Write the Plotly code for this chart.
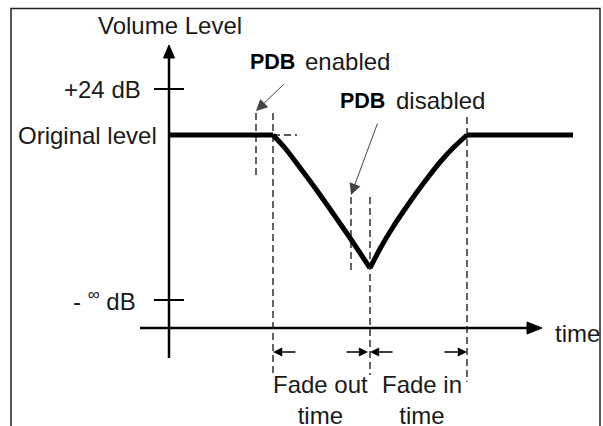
import plotly.graph_objects as go

# ---- data (time units along the horizontal axis, level units upward; origin at axes crossing)
original_level = 193
hold_before_time = [0, 104]
fade_out_time = [104, 116, 129, 149, 179, 201]
fade_out_level = [193, 180, 163, 136, 93, 60]
fade_in_time = [201, 212, 224, 236, 248, 260, 272, 285, 298]
fade_in_level = [60, 81, 101, 119, 136, 152, 167, 181, 193]
hold_after_time = [298, 404]

level_names = ["+24 dB", "Original level", "- <sup>∞</sup> dB"]
level_values = [239, 193, 28]
tick_levels = [239, 28]

t_pdb_enable = 87
t_fade_start = 104
t_pdb_disable = 182
t_fade_min = 201
t_fade_end = 298

# dashed guide lines: (time, level_from, level_to)
guide_time = [87, 104, 182, 201, 298]
guide_from = [215, 215, 131, 131, 211]
guide_to = [153, -47, 56, -47, -54]

# axis extents
yaxis_bottom, yaxis_top = -30, 283
xaxis_left, xaxis_right = -29, 373

FONT = "Liberation Sans, Arial, sans-serif"
TXT = "#1a1a1a"
DASH = dict(color="#222", width=1.4, dash="7px,4px")

fig = go.Figure()

# axes
fig.add_trace(go.Scatter(x=[0, 0], y=[yaxis_bottom, yaxis_top - 12], mode="lines",
                         line=dict(color="black", width=2.5), hoverinfo="skip"))
fig.add_trace(go.Scatter(x=[-5.5, 5.5, 0, -5.5], y=[yaxis_top - 13, yaxis_top - 13, yaxis_top, yaxis_top - 13],
                         mode="lines", fill="toself", fillcolor="black", line=dict(color="black", width=1),
                         hoverinfo="skip"))
fig.add_trace(go.Scatter(x=[xaxis_left, xaxis_right - 13], y=[0, 0], mode="lines",
                         line=dict(color="black", width=2.5), hoverinfo="skip"))
fig.add_trace(go.Scatter(x=[xaxis_right - 15, xaxis_right - 15, xaxis_right, xaxis_right - 15], y=[-6, 6, 0, -6],
                         mode="lines", fill="toself", fillcolor="black", line=dict(color="black", width=1),
                         hoverinfo="skip"))
# ticks on the level axis
for lv in tick_levels:
    fig.add_trace(go.Scatter(x=[-15, 15], y=[lv, lv], mode="lines",
                             line=dict(color="black", width=2), hoverinfo="skip"))

# dashed guides
for t, a, b in zip(guide_time, guide_from, guide_to):
    fig.add_trace(go.Scatter(x=[t, t], y=[a, b], mode="lines", line=DASH, hoverinfo="skip"))
fig.add_trace(go.Scatter(x=[t_fade_start, t_fade_start + 24], y=[original_level, original_level], mode="lines",
                         line=DASH, hoverinfo="skip"))

# volume curve
fig.add_trace(go.Scatter(x=hold_before_time, y=[original_level] * 2, mode="lines",
                         line=dict(color="black", width=5), hoverinfo="skip"))
fig.add_trace(go.Scatter(x=fade_out_time, y=fade_out_level, mode="lines",
                         line=dict(color="black", width=5, shape="spline", smoothing=0.6), hoverinfo="skip"))
fig.add_trace(go.Scatter(x=fade_in_time, y=fade_in_level, mode="lines",
                         line=dict(color="black", width=5, shape="spline", smoothing=0.6), hoverinfo="skip"))
fig.add_trace(go.Scatter(x=hold_after_time, y=[original_level] * 2, mode="lines",
                         line=dict(color="black", width=5), hoverinfo="skip"))

annotations = []
# level labels
label_time = [-26, -10, -31]
for name, lv, tt in zip(level_names, level_values, label_time):
    annotations.append(dict(x=tt, y=lv, text=name, showarrow=False, xanchor="right", yanchor="middle",
                            font=dict(family=FONT, size=24, color=TXT)))
annotations.append(dict(x=1, y=303, text="Volume Level", showarrow=False, xanchor="center", yanchor="middle",
                        font=dict(family=FONT, size=24, color=TXT)))
annotations.append(dict(x=384, y=-5, text="time", showarrow=False, xanchor="left", yanchor="middle",
                        font=dict(family=FONT, size=24, color=TXT)))
# PDB labels
annotations.append(dict(x=79, y=266, text="<b>PDB</b>", showarrow=False, xanchor="left", yanchor="middle",
                        font=dict(family=FONT, size=21.5, color="black")))
annotations.append(dict(x=134, y=267, text="enabled", showarrow=False, xanchor="left", yanchor="middle",
                        font=dict(family=FONT, size=24, color=TXT)))
annotations.append(dict(x=169, y=227, text="<b>PDB</b>", showarrow=False, xanchor="left", yanchor="middle",
                        font=dict(family=FONT, size=21.5, color="black")))
annotations.append(dict(x=225, y=228, text="disabled", showarrow=False, xanchor="left", yanchor="middle",
                        font=dict(family=FONT, size=24, color=TXT)))
# fade labels
annotations.append(dict(x=151, y=-72, text="Fade out<br>time", showarrow=False, xanchor="center",
                        yanchor="middle", font=dict(family=FONT, size=24, color=TXT)))
annotations.append(dict(x=253, y=-72, text="Fade in<br>time", showarrow=False, xanchor="center",
                        yanchor="middle", font=dict(family=FONT, size=24, color=TXT)))

# pointer arrows
annotations.append(dict(x=t_pdb_enable, y=217, ax=116, ay=245, axref="x", ayref="y", xref="x", yref="y",
                        showarrow=True, arrowhead=2, arrowsize=2.3, arrowwidth=1, arrowcolor="#444", text=""))
annotations.append(dict(x=t_pdb_disable, y=133, ax=209, ay=206, axref="x", ayref="y", xref="x", yref="y",
                        showarrow=True, arrowhead=2, arrowsize=2.3, arrowwidth=1, arrowcolor="#444", text=""))
# dimension arrows (head, tail)
dim_y = -24
dim_heads = [t_fade_start, t_fade_min - 2, t_fade_min, t_fade_end]
dim_tails = [128, 176, 225, 274]
for h, tl in zip(dim_heads, dim_tails):
    annotations.append(dict(x=h, y=dim_y, ax=tl, ay=dim_y, axref="x", ayref="y", xref="x", yref="y",
                            showarrow=True, arrowhead=2, arrowsize=1.15, arrowwidth=1.6, arrowcolor="black",
                            text=""))

# outer frame
shapes = [dict(type="rect", xref="paper", yref="paper", x0=11 / 603, x1=600 / 603, y0=-0.1,
               y1=1 - 8.5 / 426, line=dict(color="#222", width=1.5), fillcolor="rgba(0,0,0,0)")]

fig.update_layout(
    width=603, height=426, margin=dict(l=0, r=0, t=0, b=0),
    paper_bgcolor="white", plot_bgcolor="white", showlegend=False,
    xaxis=dict(range=[-169, 434], visible=False, fixedrange=True),
    yaxis=dict(range=[-98, 328], visible=False, fixedrange=True),
    annotations=annotations, shapes=shapes,
)

fig.write_html("out.html", config={"displayModeBar": False},
               post_script="document.body.style.margin='0px';document.body.style.overflow='hidden';")
